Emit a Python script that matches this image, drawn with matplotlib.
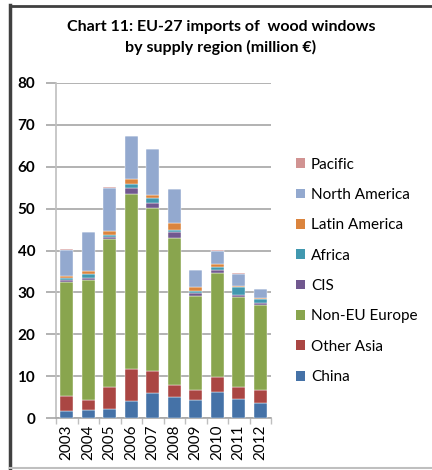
import numpy as np
import matplotlib.pyplot as plt
from matplotlib.patches import Patch
from matplotlib.lines import Line2D

years = ["2003", "2004", "2005", "2006", "2007", "2008", "2009", "2010", "2011", "2012"]

china = [1.6, 1.8, 2.2, 4.0, 5.9, 5.0, 4.3, 6.1, 4.6, 3.7]
other_asia = [3.7, 2.5, 5.1, 7.6, 5.4, 3.0, 2.5, 3.7, 2.7, 3.1]
non_eu_europe = [27.1, 28.7, 35.5, 41.8, 38.8, 35.0, 22.4, 24.8, 21.5, 20.2]
cis = [0.6, 0.5, 0.4, 1.6, 1.3, 1.3, 0.6, 0.8, 0.6, 0.4]
africa = [0.4, 0.8, 0.6, 1.0, 1.2, 0.6, 0.6, 0.7, 1.8, 1.0]
latin_america = [0.5, 0.7, 0.8, 1.0, 0.6, 1.6, 0.8, 0.6, 0.4, 0.3]
north_america = [6.3, 9.3, 10.4, 10.3, 11.0, 8.1, 4.1, 3.2, 2.8, 2.1]
pacific = [0.2, 0.2, 0.1, 0.1, 0.1, 0.2, 0.1, 0.1, 0.2, 0.1]

series = [
    ("China", china, "#4572A7"),
    ("Other Asia", other_asia, "#AA4643"),
    ("Non-EU Europe", non_eu_europe, "#89A54E"),
    ("CIS", cis, "#71588F"),
    ("Africa", africa, "#4198AF"),
    ("Latin America", latin_america, "#DB843D"),
    ("North America", north_america, "#93A9CF"),
    ("Pacific", pacific, "#D19392"),
]

plt.rcParams['font.family'] = ['Lato', 'DejaVu Sans']

W, H = 432, 470
fig = plt.figure(figsize=(W / 100, H / 100), dpi=100)

# plot area in pixels: x 56..271, y 83..418
ax = fig.add_axes([56 / W, (H - 418) / H, (271 - 56) / W, (418 - 83) / H])

x = np.arange(len(years))
bottom = np.zeros(len(years))
for name, vals, col in series:
    ax.bar(x, vals, 0.6, bottom=bottom, color=col, edgecolor="white", linewidth=0.3, zorder=3)
    bottom += np.array(vals)

ax.set_xlim(-0.5, len(years) - 0.5)
ax.set_ylim(0, 80)
ax.set_yticks(range(0, 81, 10))
ax.yaxis.grid(True, color="#A6A6A6", linewidth=1.2, zorder=0)
ax.tick_params(axis="y", length=7, width=1.2, color="#A6A6A6", labelsize=11, pad=8)
for lab in ax.get_yticklabels():
    lab.set_fontweight("bold")

ax.set_xticks(x)
ax.set_xticklabels(years, rotation=90, fontsize=11)
ax.set_xticks(np.arange(-0.5, len(years), 1), minor=True)
ax.tick_params(axis="x", which="major", length=0, pad=5)
ax.tick_params(axis="x", which="minor", length=4, width=1.0, color="#BFBFBF")

for s in ["top", "right"]:
    ax.spines[s].set_visible(False)
ax.spines["left"].set_color("#BFBFBF")
ax.spines["left"].set_linewidth(1.2)
ax.spines["bottom"].set_color("#A6A6A6")
ax.spines["bottom"].set_linewidth(1.2)

fig.text(0.5 + 0.5 * 10 / W, 1 - 27 / H, "Chart 11: EU-27 imports of  wood windows",
         ha="center", va="center", fontsize=11.5, fontweight="bold")
fig.text(0.5 + 0.5 * 10 / W, 1 - 47 / H, "by supply region (million \u20ac)",
         ha="center", va="center", fontsize=11.5, fontweight="bold")

handles = [Patch(facecolor=col, edgecolor="none", label=name) for name, vals, col in series][::-1]
fig.legend(handles=handles, loc="upper left", bbox_to_anchor=(288 / W, 1 - 150 / H),
           frameon=False, fontsize=11, handlelength=0.6, handleheight=0.6,
           handletextpad=0.4, labelspacing=1.07, borderpad=0)

# frame around the chart
fig.add_artist(Line2D([9.5 / W, 9.5 / W], [0, 1 - 5 / H], color="#404040", linewidth=2.5))
fig.add_artist(Line2D([9.5 / W, 1], [1 - 6 / H, 1 - 6 / H], color="#404040", linewidth=2.0))
fig.add_artist(Line2D([9.5 / W, 1], [2 / H, 2 / H], color="#BFBFBF", linewidth=1.5))

fig.savefig("out.png", dpi=100)
